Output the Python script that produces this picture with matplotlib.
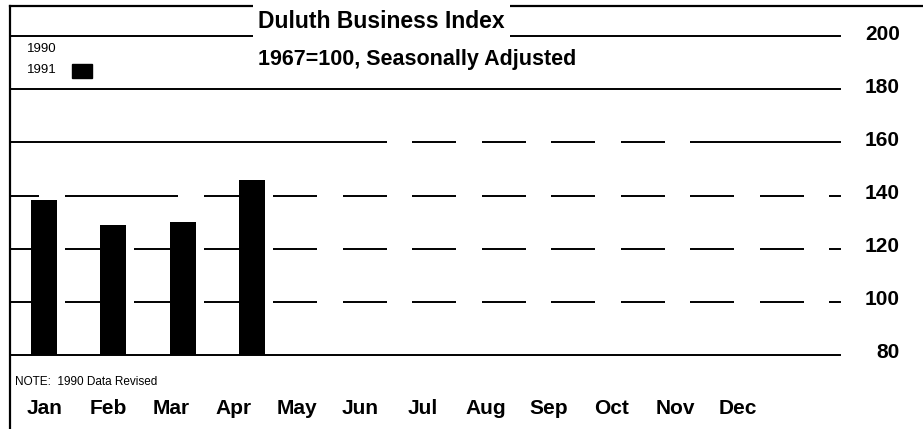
import matplotlib
matplotlib.use('Agg')
import matplotlib.pyplot as plt
import matplotlib.transforms as mtransforms
from matplotlib.patches import Rectangle
from matplotlib.lines import Line2D

months = ['Jan', 'Feb', 'Mar', 'Apr', 'May', 'Jun', 'Jul', 'Aug', 'Sep', 'Oct', 'Nov', 'Dec']
idx_1990 = [146, 133, 144, 150, 152, 163, 165, 172, 163, 167, 150, 146]  # white bars, only show as gaps
idx_1991 = [138.3, 129, 130.2, 145.7]
y_ticks = [80, 100, 120, 140, 160, 180, 200]

plt.rcParams['font.family'] = ['Liberation Sans', 'DejaVu Sans']

W, H = 923, 429
fig = plt.figure(figsize=(W / 100, H / 100), dpi=100)
ax = fig.add_axes([10 / W, (H - 355) / H, 830 / W, 319 / H])

x90 = list(range(len(idx_1990)))
x91 = [i - 0.12 for i in range(len(idx_1991))]

for v in y_ticks:
    # base and top lines stay whole, the rest get cut by the white 1990 bars
    z = 4 if v in (80, 200) else 1
    ax.axhline(v, color='black', lw=1.4, zorder=z, clip_on=False)
ax.bar(x90, idx_1990, width=0.37, color='white', zorder=2)
ax.bar(x91, idx_1991, width=0.37, color='black', zorder=3)

ax.set_xlim(-0.606, 11.337)
ax.set_ylim(80, 200)
ax.set_xticks([])
ax.yaxis.tick_right()
ax.set_yticks(y_ticks)
ax.set_yticklabels([str(v) for v in y_ticks], fontsize=15, fontweight='bold')
ax.tick_params(axis='y', length=0, pad=43)
off = mtransforms.ScaledTranslation(0, 0.04, fig.dpi_scale_trans)
for lab in ax.get_yticklabels():
    lab.set_horizontalalignment('right')
    lab.set_transform(lab.get_transform() + off)
for s in ax.spines.values():
    s.set_visible(False)
ax.patch.set_alpha(0)

# frame
fig.add_artist(Line2D([10 / W, 1], [(H - 6) / H, (H - 6) / H], color='black', lw=1.6))
fig.add_artist(Line2D([10 / W, 10 / W], [0, (H - 6) / H], color='black', lw=1.6))

fig.text(258 / W, (H - 21) / H, 'Duluth Business Index', fontsize=16.5, fontweight='bold',
         ha='left', va='center', zorder=5,
         bbox=dict(facecolor='white', edgecolor='none', pad=4))
fig.text(258 / W, (H - 60) / H, '1967=100, Seasonally Adjusted', fontsize=15.5,
         fontweight='bold', ha='left', va='center')

fig.text(27 / W, (H - 49) / H, '1990', fontsize=9.5, ha='left', va='center')
fig.text(27 / W, (H - 70) / H, '1991', fontsize=9.5, ha='left', va='center')
fig.add_artist(Rectangle((72 / W, (H - 78) / H), 20 / W, 14 / H, color='black',
                         transform=fig.transFigure))

fig.text(15 / W, (H - 382) / H, 'NOTE:  1990 Data Revised', fontsize=8.5,
         ha='left', va='center')
for i, m in enumerate(months):
    fig.text((45 + 63 * i) / W, (H - 409) / H, m, fontsize=15, fontweight='bold',
             ha='center', va='center')

fig.savefig('out.png', dpi=100, facecolor='white')
